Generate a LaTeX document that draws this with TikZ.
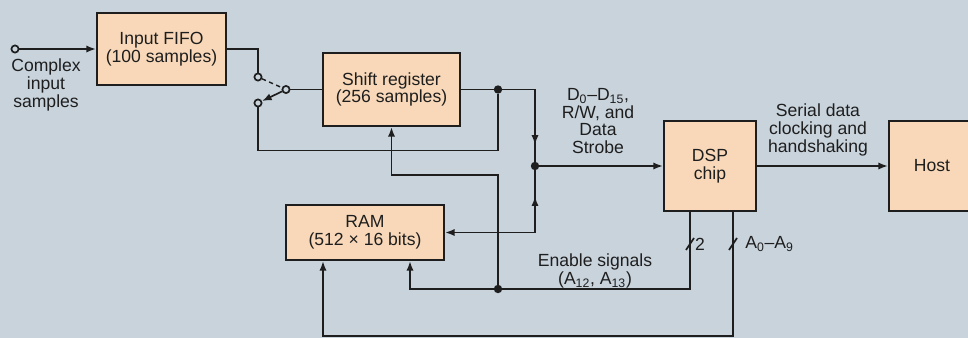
\documentclass[tikz,border=0pt]{standalone}
\usepackage{fontspec}
\setmainfont{Liberation Sans}
\usepackage{xcolor}
\usetikzlibrary{arrows.meta, positioning, calc, decorations.markings}
\definecolor{paperBlue}{HTML}{C8D3DC}
\definecolor{boxPeach}{HTML}{F8D8B8}
\definecolor{inkBlack}{HTML}{1E1E1E}

\begin{document}
\begin{tikzpicture}[
  x=0.025cm, y=-0.025cm,
  every node/.style={font=\fontsize{12.5}{12.5}\selectfont, text=inkBlack},
  block/.style={
    draw=inkBlack, line width=1.4pt, fill=boxPeach, align=center, inner sep=1mm
  },
  wire/.style={line width=1.4pt, draw=inkBlack},
  arrow/.style={wire, -{Latex[length=2.4mm, width=1.8mm]}},
  midtip/.style={postaction={decorate}, decoration={markings,
    mark=at position #1 with {\arrow{Latex[length=2.4mm, width=1.8mm]}}}},
  midtipback/.style={postaction={decorate}, decoration={markings,
    mark=at position #1 with {\arrowreversed{Latex[length=2.4mm, width=1.8mm]}}}},
  port/.style={
    circle, draw=inkBlack, line width=1.2pt, fill=paperBlue,
    inner sep=0pt, minimum size=1.8mm
  },
  joint/.style={circle, fill=inkBlack, inner sep=0pt, minimum size=2.1mm},
  note/.style={align=center, inner sep=0pt}
]

\fill[paperBlue] (0,0) rectangle (968,338);
\useasboundingbox (0,0) rectangle (968,338);

% blocks
\node[block, minimum width=3.225cm, minimum height=1.8cm] (fifo) at (161.5,49) {Input FIFO\\(100 samples)};
\node[block, minimum width=3.425cm, minimum height=1.825cm] (shreg) at (391.5,89.5) {Shift register\\(256 samples)};
\node[block, minimum width=3.95cm, minimum height=1.375cm] (ram) at (365,232.5) {RAM\\(512 × 16 bits)};
\node[block, minimum width=2.3cm, minimum height=2.25cm] (dsp) at (710,166) {DSP\\chip};
\node[block, minimum width=2.15cm, minimum height=2.25cm, right=3.275cm of dsp] (host) {Host};

% ports and joints
\node[port] (inpt) at (15,49) {};
\node[port] (swa) at (258,77) {};
\node[port] (swb) at (258,103) {};
\node[port] (swp) at (286,89.5) {};
\node[joint] (ja) at (498,89.5) {};
\node[joint] (jb) at (535,166) {};
\node[joint] (jc) at (498,289) {};
\coordinate (en) at ($(dsp.south)+(-20,0)$);
\coordinate (ad) at ($(dsp.south)+(23,0)$);

% labels
\node[note] (inlbl) at (46,85) {Complex\\input\\samples};
\node[note] (buslbl) at (598,121) {D\textsubscript{0}--D\textsubscript{15},\\R/W, and\\Data\\Strobe};
\node[note] (serlbl) at (818,130) {Serial data\\clocking and\\handshaking};
\node[note] (enlbl) at (595,271) {Enable signals\\(A\textsubscript{12}, A\textsubscript{13})};
\node[note] (twolbl) at ($(en)+(10,32)$) {2};
\node[note, anchor=west] (adlbl) at ($(ad)+(12,32)$) {A\textsubscript{0}--A\textsubscript{9}};

% input and switch
\draw[arrow] (inpt) -- (fifo);
\draw[wire] (fifo.east) -| (swa);
\draw[wire, line width=1pt, dash pattern=on 3pt off 2.5pt] (swa) -- (swp);
\draw[arrow, line width=1.2pt] (swp) -- (swb);
\draw[wire] (swp) -- (shreg);

% data bus
\draw[wire] (shreg) -- (ja);
\draw[wire, midtip=0.84] (ja) -| (jb);
\draw[wire] (ja) -- ++(0,61) -| (swb);
\draw[arrow] (jb) -- (dsp);
\draw[arrow, midtipback=0.17] (jb) |- (ram);
\draw[arrow] (dsp) -- (host);

% control lines
\draw[arrow] (en) |- (jc) -| ($(ram.south)+(45,0)$);
\draw[arrow] (jc) -- ++(0,-114) -| (shreg);
\draw[arrow] (ad) -- ++(0,124) -| ($(ram.south)+(-42,0)$);
\draw[wire, line width=1.2pt] ($(en)+(-4,38)$) -- ($(en)+(4,26)$);
\draw[wire, line width=1.2pt] ($(ad)+(-4,38)$) -- ($(ad)+(4,26)$);

\end{tikzpicture}
\end{document}
